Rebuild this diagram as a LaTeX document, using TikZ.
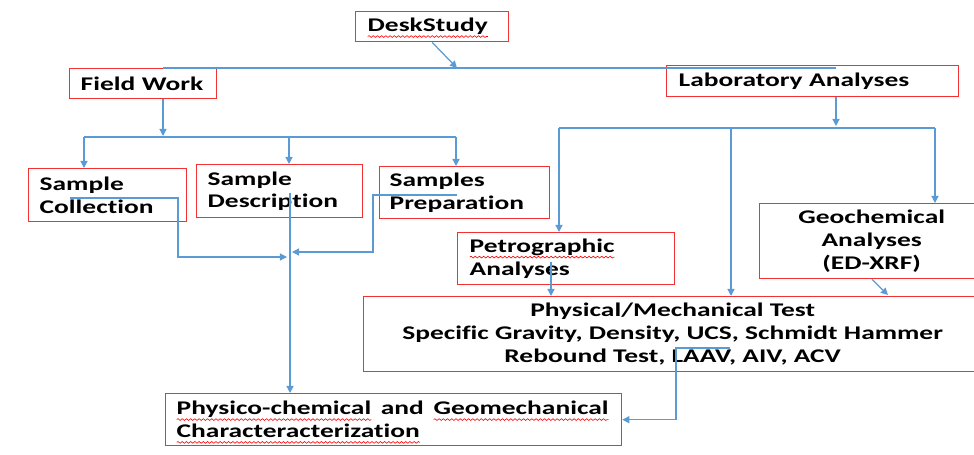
\documentclass[tikz,border=0pt]{standalone}
\usepackage{fontspec}
\setmainfont{Carlito}[FakeStretch=1.42, Ligatures=NoCommon]
\usetikzlibrary{arrows.meta, decorations.pathmorphing}
\definecolor{rouge}{RGB}{242,50,50}
\definecolor{bleu}{RGB}{91,155,213}
\newsavebox{\motbox}
\newlength{\motlong}
\newcommand{\faute}[1]{\leavevmode\sbox{\motbox}{#1}\setlength{\motlong}{\wd\motbox}%
  \rlap{\tikz[overlay]\draw[red, line width=0.35pt, decorate,
    decoration={snake, amplitude=0.5pt, segment length=2.4pt}] (0pt,-2.6pt) -- (\motlong,-2.6pt);}%
  \usebox{\motbox}}

\begin{document}
\begin{tikzpicture}[x=0.02cm, y=-0.02cm, >={Triangle[length=4pt,width=4pt]},
  cadre/.style={draw=rouge, line width=0.8pt, anchor=north west, inner ysep=0pt,
    font=\fontsize{11}{13}\selectfont\bfseries},
  lien/.style={draw=bleu, line width=0.7pt}]

  \useasboundingbox (0,0) rectangle (974,454);
  \clip (0,0) rectangle (974,454);

  %les cadres
  \node[cadre, minimum height=0.6cm, inner xsep=0.24cm, text width=2.58cm, align=left] (desk) at (355,11) {\faute{DeskStudy}};
  \node[cadre, minimum height=0.6cm, inner xsep=0.22cm, text width=2.5cm, align=left] (field) at (69,68) {Field Work};
  \node[cadre, minimum height=0.62cm, inner xsep=0.24cm, text width=5.36cm, align=left] (lab) at (666,65) {Laboratory Analyses};

  \node[cadre, minimum height=1.06cm, inner xsep=0.22cm, text width=2.72cm, align=left] (scol) at (28,168) {Sample\\Collection};
  \node[cadre, minimum height=1.06cm, inner xsep=0.22cm, text width=2.88cm, align=left] (sdes) at (196,164) {Sample\\Description};
  \node[cadre, minimum height=1.04cm, inner xsep=0.2cm, text width=3.0cm, align=left] (sprep) at (379,166) {Samples\\Preparation};

  \node[cadre, minimum height=1.04cm, inner xsep=0.24cm, text width=3.86cm, align=left] (petro) at (457,232) {\faute{Petrographic}\\Analyses};
  \node[cadre, minimum width=4.48cm, minimum height=1.5cm, align=center] (geo) at (759,203) {Geochemical\\Analyses\\(ED-XRF)};
  \node[cadre, minimum width=12.36cm, minimum height=1.5cm, align=center] (phys) at (363,296)
    {Physical/Mechanical Test\\Specific Gravity, Density, UCS, Schmidt Hammer\\Rebound Test, LAAV, AIV, ACV};

  \node[cadre, minimum height=1.04cm, inner xsep=0.22cm, text width=8.68cm, align=left] (fin) at (165,393)
    {\makebox[8.64cm][l]{\faute{Physico-chemical}\hfill and\hfill \faute{Geomechanical}}\\\faute{Characteracterization}};

  %points des liens
  \coordinate (hg) at (163,68);
  \coordinate (hd) at (836,68);
  \coordinate (split) at (457,68);
  \coordinate (fwb) at (163,136);
  \coordinate (b1) at (84,137);
  \coordinate (b2) at (289,137);
  \coordinate (b3) at (456,137);
  \coordinate (l0) at (836,126);
  \coordinate (l1) at (559,128);
  \coordinate (l2) at (731,128);
  \coordinate (l3) at (935,128);
  \coordinate (p0) at (551,262);
  \coordinate (g0) at (888,295);
  \coordinate (c0) at (70,198);
  \coordinate (c1) at (287,257);
  \coordinate (d0) at (290,193);
  \coordinate (s0) at (457,195);
  \coordinate (s1) at (292,252);
  \coordinate (m0) at (730,348);

  %tracer les liens
  \draw[lien] (hg) -- (hd);
  \draw[lien,->] (desk.south) -- (split);
  \draw[lien,->] (field.south -| hg) -- (fwb);
  \draw[lien] (b1) -- (b3);
  \foreach \b/\n in {b1/scol, b2/sdes, b3/sprep}
    \draw[lien,->] (\b) -- (\b |- \n.north);

  \draw[lien,->] (lab.south -| l0) -- (l0);
  \draw[lien] (l1) -- (l3);
  \foreach \b/\n in {l1/petro, l2/phys, l3/geo}
    \draw[lien,->] (\b) -- (\b |- \n.north);
  \draw[lien,->] (p0) -- (p0 |- phys.north);
  \draw[lien,->] (geo.south -| 872,0) -- (g0);

  \draw[lien,->] (c0) -- ++(108,0) -- ++(0,59) -- (c1);
  \draw[lien,->] (d0) -- (d0 |- fin.north);
  \draw[lien,->] (s0) -- ++(-84,0) -- ++(0,57) -- (s1);
  \draw[lien,->] (m0) -- ++(-54,0) |- (fin.east);

\end{tikzpicture}
\end{document}
